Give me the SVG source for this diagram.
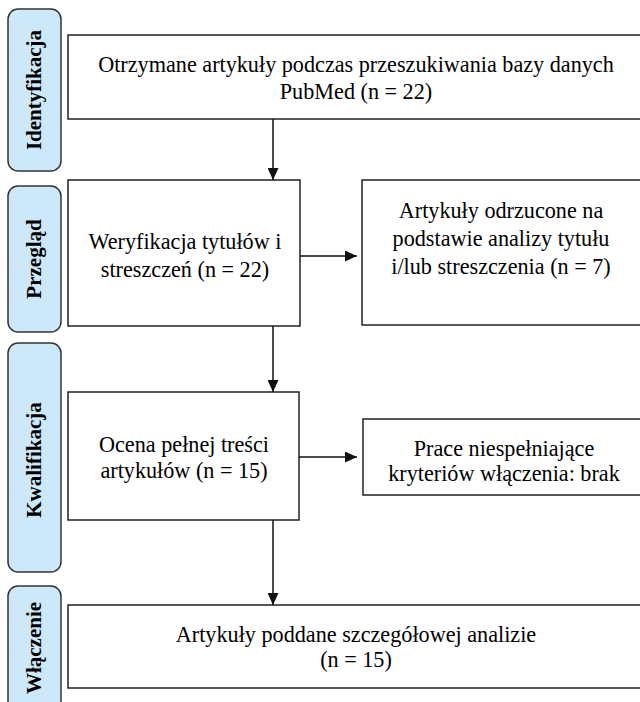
<svg xmlns="http://www.w3.org/2000/svg" width="640" height="702" viewBox="0 0 640 702">
  <style>
    .phase { fill: #cde8f9; stroke: #333; stroke-width: 1.5; }
    .phase-text { font-family: "Liberation Serif", "Times New Roman", serif; font-weight: bold; font-size: 21px; fill: #000; text-anchor: middle; }
    .box { fill: #fff; stroke: #222; stroke-width: 1.5; }
    .box-text { font-family: "Liberation Serif", "Times New Roman", serif; font-size: 22.2px; fill: #000; text-anchor: middle; }
    .conn { stroke: #111; stroke-width: 1.5; fill: none; }
  </style>
  <defs>
    <marker id="arrow" markerUnits="userSpaceOnUse" markerWidth="12" markerHeight="11" refX="12" refY="5.5" orient="auto">
      <path d="M0,0 L12,5.5 L0,11 Z" fill="#111"/>
    </marker>
  </defs>
  <rect width="640" height="702" fill="#fff"/>

  <g id="phase-identyfikacja">
    <rect class="phase" x="8" y="9" width="53" height="162" rx="10"/>
    <text class="phase-text" transform="translate(41,90) rotate(-90)">Identyfikacja</text>
  </g>
  <g id="phase-przeglad">
    <rect class="phase" x="8" y="186" width="53" height="146" rx="10"/>
    <text class="phase-text" transform="translate(41,259) rotate(-90)">Przegląd</text>
  </g>
  <g id="phase-kwalifikacja">
    <rect class="phase" x="8" y="343" width="53" height="229" rx="10"/>
    <text class="phase-text" transform="translate(41,460) rotate(-90)">Kwalifikacja</text>
  </g>
  <g id="phase-wlaczenie">
    <rect class="phase" x="8" y="586" width="53" height="126" rx="10"/>
    <text class="phase-text" transform="translate(41,648) rotate(-90)">Włączenie</text>
  </g>

  <g id="node-otrzymane">
    <rect class="box" x="68" y="35" width="576" height="84"/>
    <text class="box-text" x="356" y="72">Otrzymane artykuły podczas przeszukiwania bazy danych</text>
    <text class="box-text" x="356" y="99">PubMed (n = 22)</text>
  </g>
  <g id="node-weryfikacja">
    <rect class="box" x="68" y="180" width="232" height="146"/>
    <text class="box-text" x="185" y="249">Weryfikacja tytułów i</text>
    <text class="box-text" x="185" y="277">streszczeń (n = 22)</text>
  </g>
  <g id="node-odrzucone">
    <rect class="box" x="362" y="180" width="282" height="145"/>
    <text class="box-text" x="501" y="218">Artykuły odrzucone na</text>
    <text class="box-text" x="501" y="246">podstawie analizy tytułu</text>
    <text class="box-text" x="501" y="274">i/lub streszczenia (n = 7)</text>
  </g>
  <g id="node-ocena">
    <rect class="box" x="68" y="392" width="231" height="128"/>
    <text class="box-text" x="184" y="452">Ocena pełnej treści</text>
    <text class="box-text" x="184" y="478">artykułów (n = 15)</text>
  </g>
  <g id="node-prace">
    <rect class="box" x="363" y="419" width="282" height="76"/>
    <text class="box-text" x="504" y="456">Prace niespełniające</text>
    <text class="box-text" x="504" y="481">kryteriów włączenia: brak</text>
  </g>
  <g id="node-analiza">
    <rect class="box" x="68" y="605" width="576" height="83"/>
    <text class="box-text" x="356" y="642">Artykuły poddane szczegółowej analizie</text>
    <text class="box-text" x="356" y="667">(n = 15)</text>
  </g>

  <g id="connectors">
    <line class="conn" x1="273" y1="119" x2="273" y2="180" marker-end="url(#arrow)"/>
    <line class="conn" x1="300" y1="256" x2="357" y2="256" marker-end="url(#arrow)"/>
    <line class="conn" x1="273" y1="326" x2="273" y2="392" marker-end="url(#arrow)"/>
    <line class="conn" x1="299" y1="457" x2="357" y2="457" marker-end="url(#arrow)"/>
    <line class="conn" x1="273" y1="520" x2="273" y2="605" marker-end="url(#arrow)"/>
  </g>
</svg>
